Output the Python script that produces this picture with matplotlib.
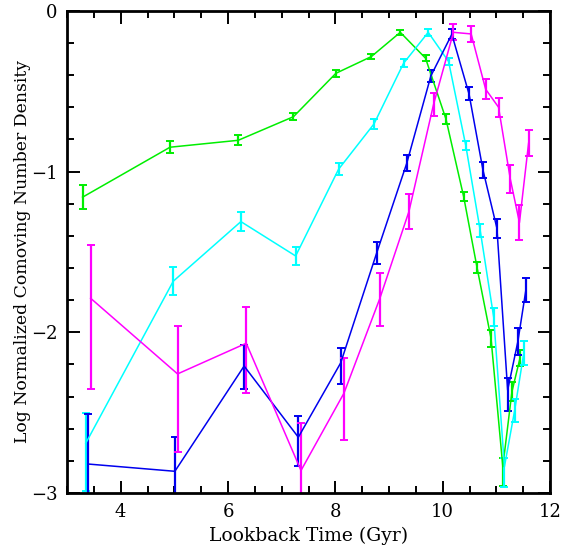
import matplotlib.pyplot as plt
from matplotlib.ticker import MultipleLocator

plt.rcParams['font.family'] = ['DejaVu Serif']

# lookback time (Gyr), log density, lower / upper errors
t_green = [3.29, 4.92, 6.19, 7.22, 8.01, 8.67, 9.21, 9.68, 10.06, 10.39, 10.64, 10.90, 11.12, 11.29, 11.44]
y_green = [-1.159, -0.848, -0.805, -0.658, -0.388, -0.284, -0.133, -0.294, -0.672, -1.155, -1.597, -2.037, -2.836, -2.369, -2.161]
lo_green = [0.073, 0.037, 0.03, 0.023, 0.02, 0.015, 0.015, 0.02, 0.03, 0.027, 0.036, 0.052, 0.12, 0.06, 0.05]
hi_green = [0.073, 0.037, 0.03, 0.023, 0.02, 0.015, 0.015, 0.02, 0.03, 0.027, 0.036, 0.052, 0.056, 0.06, 0.05]

t_cyan = [3.35, 4.98, 6.24, 7.26, 8.06, 8.72, 9.27, 9.73, 10.11, 10.43, 10.70, 10.95, 11.15, 11.34, 11.51]
y_cyan = [-2.69, -1.682, -1.311, -1.525, -0.985, -0.703, -0.326, -0.133, -0.315, -0.838, -1.369, -1.906, -2.836, -2.487, -2.13]
lo_cyan = [0.30, 0.088, 0.058, 0.056, 0.036, 0.03, 0.025, 0.02, 0.02, 0.03, 0.04, 0.055, 0.125, 0.073, 0.075]
hi_cyan = [0.19, 0.088, 0.058, 0.056, 0.036, 0.03, 0.025, 0.02, 0.02, 0.03, 0.04, 0.055, 0.056, 0.073, 0.075]

t_blue = [3.40, 5.01, 6.30, 7.31, 8.10, 8.77, 9.33, 9.78, 10.17, 10.49, 10.75, 11.01, 11.21, 11.40, 11.55]
y_blue = [-2.82, -2.865, -2.21, -2.653, -2.19, -1.506, -0.948, -0.404, -0.145, -0.516, -0.99, -1.352, -2.36, -2.058, -1.736]
lo_blue = [0.2, 0.15, 0.144, 0.177, 0.13, 0.07, 0.05, 0.036, 0.03, 0.04, 0.05, 0.058, 0.127, 0.086, 0.073]
hi_blue = [0.31, 0.215, 0.13, 0.133, 0.09, 0.07, 0.05, 0.036, 0.03, 0.04, 0.05, 0.058, 0.074, 0.086, 0.073]

t_mag = [3.44, 5.06, 6.34, 7.36, 8.16, 8.83, 9.37, 9.83, 10.20, 10.53, 10.80, 11.04, 11.26, 11.43, 11.60]
y_mag = [-1.788, -2.259, -2.068, -2.86, -2.379, -1.788, -1.249, -0.581, -0.133, -0.143, -0.487, -0.599, -1.047, -1.317, -0.823]
lo_mag = [0.564, 0.483, 0.307, 0.16, 0.291, 0.17, 0.11, 0.07, 0.05, 0.05, 0.064, 0.058, 0.088, 0.107, 0.08]
hi_mag = [0.33, 0.30, 0.224, 0.294, 0.218, 0.156, 0.11, 0.07, 0.05, 0.05, 0.064, 0.058, 0.088, 0.107, 0.08]

series = [
    (t_green, y_green, lo_green, hi_green, '#00ee00'),
    (t_cyan, y_cyan, lo_cyan, hi_cyan, '#00ffff'),
    (t_blue, y_blue, lo_blue, hi_blue, '#0000ee'),
    (t_mag, y_mag, lo_mag, hi_mag, '#ff00ff'),
]

fig = plt.figure(figsize=(5.63, 5.48), dpi=100)
ax = fig.add_axes([0.119, 0.1004, 0.858, 0.8796])

for t, y, lo, hi, c in series:
    ax.errorbar(t, y, yerr=[lo, hi], color=c, lw=1.1, elinewidth=1.6,
                capsize=2.8, capthick=1.4)

ax.set_xlim(3, 12)
ax.set_ylim(-3, 0)
ax.xaxis.set_major_locator(MultipleLocator(2))
ax.xaxis.set_minor_locator(MultipleLocator(0.5))
ax.yaxis.set_major_locator(MultipleLocator(1))
ax.yaxis.set_minor_locator(MultipleLocator(0.2))
ax.tick_params(which='both', direction='in', top=True, right=True, width=1.4,
               labelsize=13, colors='black')
ax.tick_params(which='major', length=9, pad=7)
ax.tick_params(which='minor', length=5)
for s in ax.spines.values():
    s.set_linewidth(2)

ax.set_xlabel('Lookback Time (Gyr)', fontsize=13.5, labelpad=4)
ax.set_ylabel('Log Normalized Comoving Number Density', fontsize=12.4, labelpad=0)

fig.savefig('out.png', dpi=100)
